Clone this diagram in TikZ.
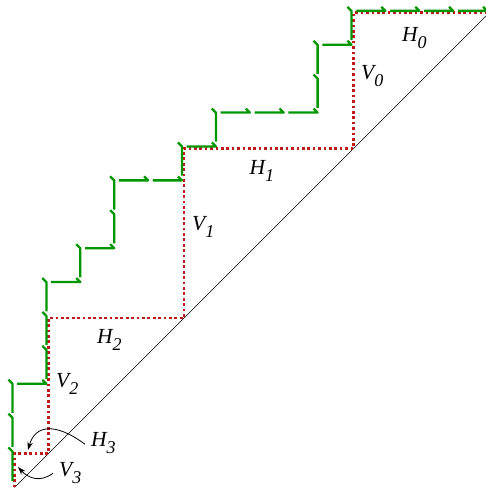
\documentclass[tikz,border=0pt]{standalone}
\usepackage{fontspec}
\setmainfont{Liberation Serif}
\usetikzlibrary{arrows.meta}
\definecolor{pathgreen}{RGB}{0,150,0}
\definecolor{dotred}{RGB}{190,25,25}
\newcommand{\lbl}[2]{{\fontsize{21.5}{21.5}\selectfont\itshape #1\raisebox{-7pt}{\fontsize{18}{18}\selectfont #2}}}
\begin{document}
\begin{tikzpicture}[x=1pt,y=1pt,
  greenstep/.style={draw=pathgreen,line width=2.3pt,line join=round},
  reddots/.style={draw=dotred,line width=2.8pt,dash pattern=on 2.7pt off 2.7pt},
  diag/.style={draw=black,line width=0.7pt},
  lab/.style={anchor=base west,inner sep=0pt},
  callout/.style={draw=black,line width=0.8pt,-{Stealth[length=8pt,width=5.5pt]}}]
\useasboundingbox (0,0) rectangle (486,489);
\begin{scope}[shift={(14.5,1.5)},x=33.9pt,y=33.9pt]
  \draw[diag] (0,0) -- (14,14);
  \draw[reddots] (0,0)--(0,1)--(1,1)--(1,5)--(5,5)--(5,10)--(10,10)--(10,14)--(14,14);
\end{scope}
\begin{scope}[shift={(12.5,3.5)},x=33.9pt,y=33.9pt]
  \foreach \a/\b/\c/\d in {0/0/0/1,0/1/0/1,0/2/0/1,0/3/1/0,
      1/3/0/1,1/4/0/1,1/5/0/1,1/6/1/0,2/6/0/1,2/7/1/0,
      3/7/0/1,3/8/0/1,3/9/1/0,4/9/1/0,5/9/0/1,5/10/1/0,6/10/0/1,
      6/11/1/0,7/11/1/0,8/11/1/0,9/11/0/1,9/12/0/1,9/13/1/0,10/13/0/1,
      10/14/1/0,11/14/1/0,12/14/1/0,13/14/1/0}
    \draw[greenstep] (\a+0.14*\c,\b+0.14*\d) -- (\a+\c,\b+\d) -- ++(-0.12,0.12);
\end{scope}
\node[lab] (h0) at (402,447.3) {\lbl{H}{0}};
\node[lab] (v0) at (361,409) {\lbl{V}{0}};
\node[lab] (h1) at (249.5,314) {\lbl{H}{1}};
\node[lab] (v1) at (192,258) {\lbl{V}{1}};
\node[lab] (h2) at (97,145) {\lbl{H}{2}};
\node[lab] (v2) at (56,101) {\lbl{V}{2}};
\node[lab] (h3) at (91,42.3) {\lbl{H}{3}};
\node[lab] (v3) at (59,12.3) {\lbl{V}{3}};
\coordinate (h3tip) at (28,39);
\coordinate (v3tip) at (18,22);
\draw[callout] ([xshift=-6pt,yshift=-1pt]h3.west) .. controls (55,67) and (35,64) .. (h3tip);
\draw[callout] ([xshift=-6pt]v3.west) .. controls (40,6) and (28,11) .. (v3tip);
\end{tikzpicture}
\end{document}
